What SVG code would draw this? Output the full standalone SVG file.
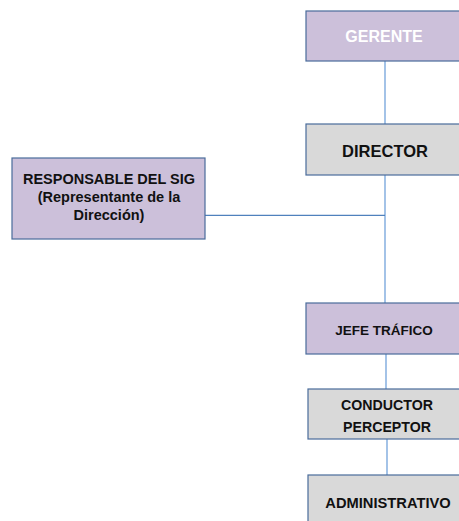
<svg xmlns="http://www.w3.org/2000/svg" width="459" height="521" viewBox="0 0 459 521">
<style>
.box{stroke:#4A6C9B;stroke-width:1.2}
.lav{fill:#CCC0DA}
.gry{fill:#D9D9D9}
.t{font-family:"Liberation Sans",Arial,sans-serif;font-weight:bold;text-anchor:middle;fill:#111}
.w{fill:#FFFFFF}
.v{stroke:#8DB4E2;stroke-width:1.6;fill:none}
.h{stroke:#4F81BD;stroke-width:1.2;fill:none}
</style>
<rect width="459" height="521" fill="#FFFFFF"/>
<g id="connectors">
<line class="v" x1="385" y1="61" x2="385" y2="124"/>
<line class="v" x1="385" y1="175" x2="385" y2="303"/>
<line class="h" x1="205" y1="215.3" x2="385" y2="215.3"/>
<line class="v" x1="386" y1="354" x2="386" y2="389"/>
<line class="v" x1="387" y1="439" x2="387" y2="475"/>
</g>
<g id="gerente">
<rect class="box lav" x="306" y="11" width="162" height="50"/>
<text class="t w" x="384" y="41.5" font-size="16">GERENTE</text>
</g>
<g id="director">
<rect class="box gry" x="306" y="124" width="162" height="51"/>
<text class="t" x="385" y="157" font-size="16.5">DIRECTOR</text>
</g>
<g id="responsable">
<rect class="box lav" x="12" y="158" width="193" height="81"/>
<text class="t" font-size="14.5"><tspan x="109" y="184">RESPONSABLE DEL SIG</tspan><tspan x="109" y="202">(Representante de la</tspan><tspan x="109" y="220">Dirección)</tspan></text>
</g>
<g id="jefe">
<rect class="box lav" x="306" y="303" width="162" height="51"/>
<text class="t" x="384" y="335" font-size="13.5">JEFE TRÁFICO</text>
</g>
<g id="conductor">
<rect class="box gry" x="308" y="389" width="160" height="50"/>
<text class="t" font-size="14.2"><tspan x="387" y="410">CONDUCTOR</tspan><tspan x="387" y="432">PERCEPTOR</tspan></text>
</g>
<g id="administrativo">
<rect class="box gry" x="308" y="475" width="160" height="60"/>
<text class="t" x="388" y="508" font-size="14.7">ADMINISTRATIVO</text>
</g>
</svg>
